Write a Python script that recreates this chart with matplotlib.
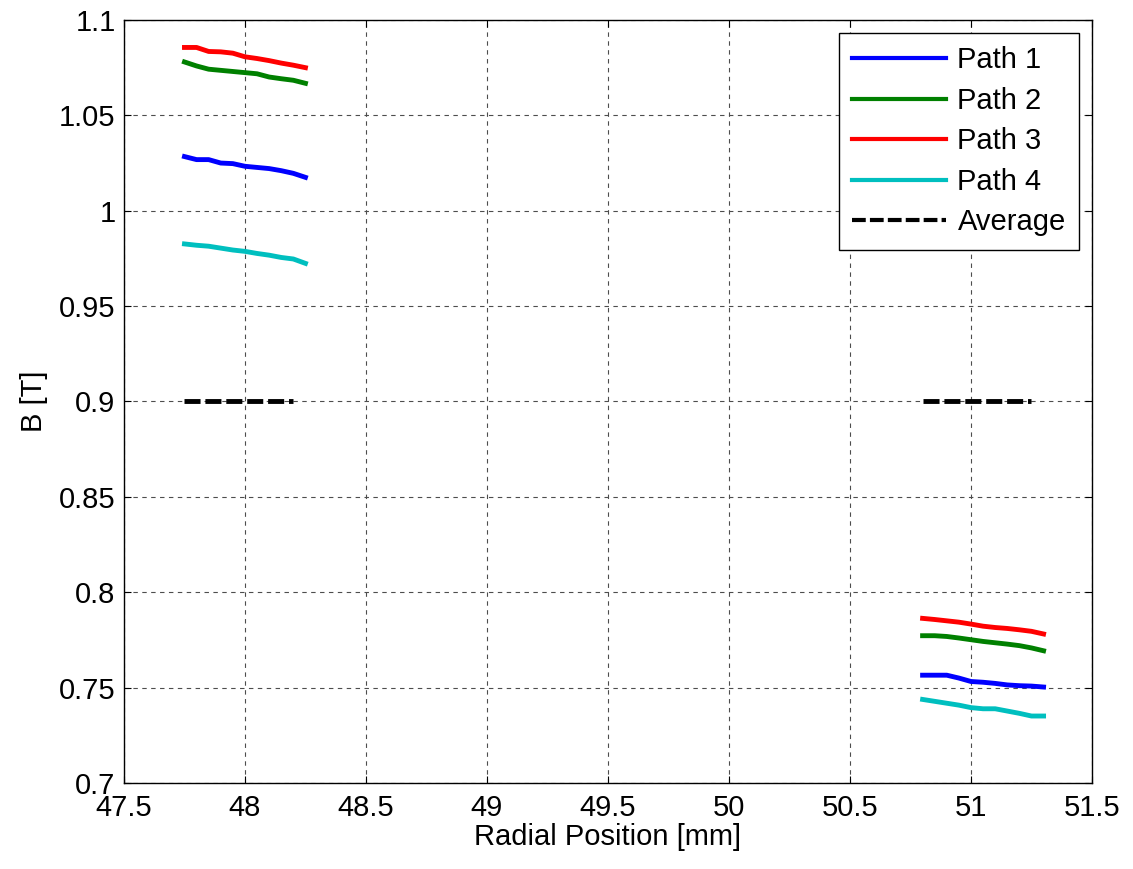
import numpy as np
import matplotlib
matplotlib.use("Agg")
import matplotlib.pyplot as plt

plt.rcParams['font.family'] = ['Liberation Sans', 'DejaVu Sans']

# radial positions [mm]
x_in = [47.75, 47.80, 47.85, 47.90, 47.95, 48.00, 48.05, 48.10, 48.15, 48.20, 48.25]
x_out = [50.80, 50.85, 50.90, 50.95, 51.00, 51.05, 51.10, 51.15, 51.20, 51.25, 51.30]
x_avg_in = [47.75, 48.20]
x_avg_out = [50.80, 51.25]

# B [T] inner group
p1_in = [1.0284, 1.0268, 1.0268, 1.0250, 1.0247, 1.0233, 1.0227, 1.0221, 1.0210, 1.0196, 1.0175]
p2_in = [1.0780, 1.0759, 1.0742, 1.0736, 1.0730, 1.0724, 1.0718, 1.0701, 1.0692, 1.0684, 1.0668]
p3_in = [1.0856, 1.0856, 1.0835, 1.0833, 1.0826, 1.0807, 1.0798, 1.0787, 1.0774, 1.0763, 1.0750]
p4_in = [0.9826, 0.9819, 0.9814, 0.9804, 0.9794, 0.9787, 0.9776, 0.9767, 0.9755, 0.9747, 0.9724]

# B [T] outer group
p1_out = [0.7565, 0.7565, 0.7565, 0.7550, 0.7532, 0.7528, 0.7522, 0.7514, 0.7510, 0.7508, 0.7503]
p2_out = [0.7772, 0.7772, 0.7768, 0.7760, 0.7751, 0.7742, 0.7735, 0.7728, 0.7720, 0.7708, 0.7693]
p3_out = [0.7863, 0.7857, 0.7850, 0.7843, 0.7833, 0.7822, 0.7815, 0.7810, 0.7803, 0.7795, 0.7781]
p4_out = [0.7438, 0.7428, 0.7418, 0.7408, 0.7395, 0.7389, 0.7389, 0.7377, 0.7365, 0.7351, 0.7351]

avg = 0.9

fig = plt.figure(figsize=(11.33, 8.69), dpi=100)
ax = fig.add_axes([0.1094, 0.099, 0.8544, 0.878])

lw = 3.5
ax.plot(x_in, p1_in, color="#0000ff", lw=lw, label="Path 1")
ax.plot(x_in, p2_in, color="#008000", lw=lw, label="Path 2")
ax.plot(x_in, p3_in, color="#ff0000", lw=lw, label="Path 3")
ax.plot(x_in, p4_in, color="#00bfbf", lw=lw, label="Path 4")
ax.plot(x_avg_in, [avg, avg], color="black", lw=lw, dashes=(3.3, 1.0), label="Average")
ax.plot(x_out, p1_out, color="#0000ff", lw=lw)
ax.plot(x_out, p2_out, color="#008000", lw=lw)
ax.plot(x_out, p3_out, color="#ff0000", lw=lw)
ax.plot(x_out, p4_out, color="#00bfbf", lw=lw)
ax.plot(x_avg_out, [avg, avg], color="black", lw=lw, dashes=(3.3, 1.0))

ax.set_xlim(47.5, 51.5)
ax.set_ylim(0.7, 1.1)
ax.set_xticks(np.arange(47.5, 51.51, 0.5))
ax.set_xticklabels(["47.5", "48", "48.5", "49", "49.5", "50", "50.5", "51", "51.5"])
ax.set_yticks(np.arange(0.7, 1.101, 0.05))
ax.set_yticklabels(["0.7", "0.75", "0.8", "0.85", "0.9", "0.95", "1", "1.05", "1.1"])
ax.tick_params(direction="in", length=5, width=0.8, labelsize=21, top=True, right=True)
ax.tick_params(axis="x", pad=8)
ax.tick_params(axis="y", pad=6)
ax.grid(True, color="0.3", linestyle=(0, (4, 4)), linewidth=0.8)
for s in ax.spines.values():
    s.set_linewidth(1.0)

ax.set_xlabel("Radial Position [mm]", fontsize=21, labelpad=1)
ax.set_ylabel("B [T]", fontsize=21, labelpad=8)

leg = ax.legend(loc="upper right", fontsize=21, fancybox=False, framealpha=1,
                edgecolor="black", handlelength=3.2, handletextpad=0.4,
                labelspacing=0.43, borderaxespad=0.45, borderpad=0.45)
leg.get_frame().set_linewidth(1.0)
for h in leg.get_lines():
    h.set_linewidth(3)

fig.savefig("out.png", dpi=100)
